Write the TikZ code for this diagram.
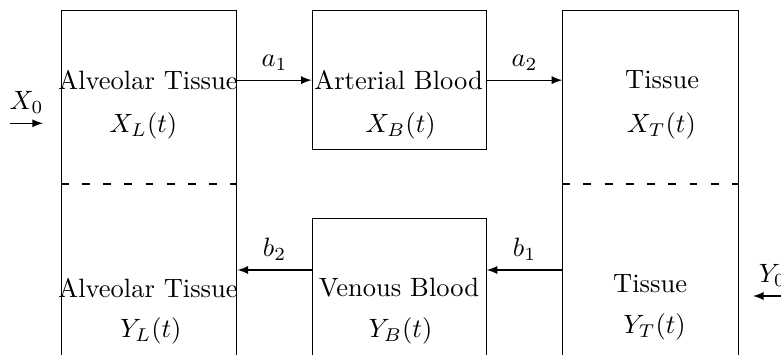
\documentclass[tikz,border=0pt]{standalone}
\usepackage{amsfonts,amssymb,amsmath}
\usepackage{tikz}
\usetikzlibrary{arrows.meta,arrows}

\begin{document}
\begin{tikzpicture}[>=latex,
  box/.style={draw,inner sep=0pt,anchor=north west,minimum width=2.33cm},
  split/.style={line width=0.8pt,dash pattern=on 3pt off 5pt}]
\useasboundingbox (0,0) rectangle (10.356,4.707);
\clip (0,0) rectangle (10.356,4.707);
% compartments
\node[box,minimum height=5cm](lung) at (0.805,4.575){};
\node[box,minimum width=2.307cm,minimum height=1.847cm](artery) at (4.133,4.575){};
\node[box,minimum width=2.307cm,minimum height=1.847cm](vein) at (4.133,1.813){};
\node[box,minimum width=2.326cm,minimum height=5cm](tissue) at (7.456,4.575){};
\draw[split](lung.west|-0,2.263)--(lung.east|-0,2.263);
\draw[split](tissue.west|-0,2.263)--(tissue.east|-0,2.263);
% texts
\node(lungX) at (1.963,3.647){Alveolar Tissue};
\node(lungXv) at (1.9,3.037){$X_L(t)$};
\node(lungY) at (1.963,0.888){Alveolar Tissue};
\node(lungYv) at (2.0,0.318){$Y_L(t)$};
\node(arteryX) at (5.286,3.647){Arterial Blood};
\node(arteryXv) at (5.31,3.037){$X_B(t)$};
\node(veinY) at (5.29,0.888){Venous Blood};
\node(veinYv) at (5.31,0.318){$Y_B(t)$};
\node(tissueX) at (8.78,3.647){Tissue};
\node(tissueXv) at (8.77,3.037){$X_T(t)$};
\node(tissueY) at (8.62,0.941){Tissue};
\node(tissueYv) at (8.68,0.371){$Y_T(t)$};
% flows
\coordinate(bline) at (0,1.127);
\draw[->](lung.east|-artery.west)--(artery.west)node[midway,above]{$a_1$};
\draw[->](artery.east)--(artery.east-|tissue.west)node[midway,above]{$a_2$};
\draw[->](tissue.west|-bline)--(vein.east|-bline)node[midway,above]{$b_1$};
\draw[->](vein.west|-bline)--(lung.east|-bline)node[midway,above]{$b_2$};
\coordinate(xin) at (0.133,3.072);
\coordinate(xend) at (0.57,3.072);
\draw[->](xin)--(xend)node[midway,above]{$X_0$};
\coordinate(yin) at (10.5,0.782);
\coordinate(yend) at (9.985,0.782);
\draw[->](yin)--(yend)node[midway,above]{$Y_0$};
\end{tikzpicture}
\end{document}
